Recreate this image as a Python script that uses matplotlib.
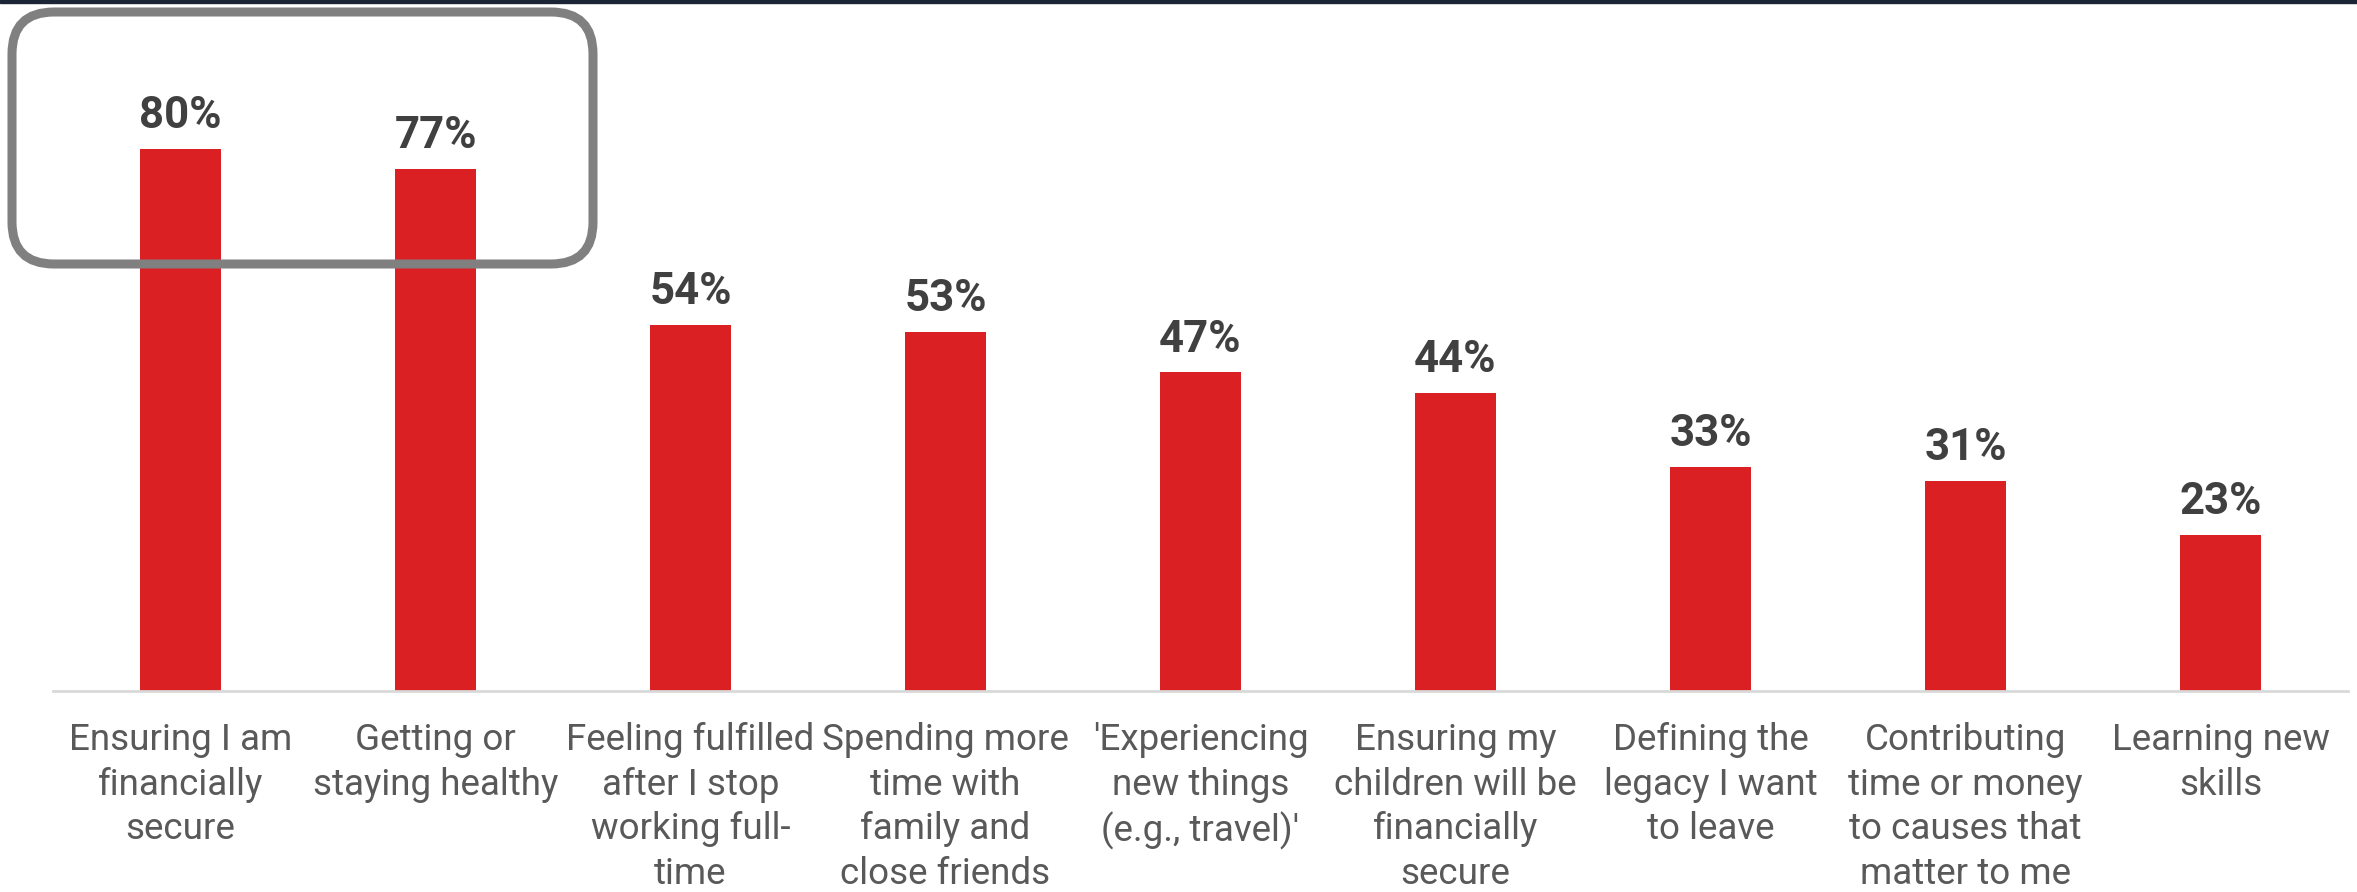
import numpy as np
import matplotlib
matplotlib.use("Agg")
import matplotlib.pyplot as plt
from matplotlib.patches import FancyBboxPatch, Rectangle

# ---------------------------------------------------------------------------
# data
categories = [
    "Ensuring I am\nfinancially\nsecure",
    "Getting or\nstaying healthy",
    "Feeling fulfilled\nafter I stop\nworking full-\ntime",
    "Spending more\ntime with\nfamily and\nclose friends",
    "'Experiencing\nnew things\n(e.g., travel)'",
    "Ensuring my\nchildren will be\nfinancially\nsecure",
    "Defining the\nlegacy I want\nto leave",
    "Contributing\ntime or money\nto causes that\nmatter to me",
    "Learning new\nskills",
]
values = [80, 77, 54, 53, 47, 44, 33, 31, 23]
value_labels = ["80%", "77%", "54%", "53%", "47%", "44%", "33%", "31%", "23%"]

# ---------------------------------------------------------------------------
plt.rcParams['font.family'] = ['Roboto', 'DejaVu Sans']

W, H = 2357, 892
fig = plt.figure(figsize=(W / 100, H / 100), dpi=100)

ax = fig.add_axes([53 / W, 1 - 691 / H, (2348 - 53) / W, 678 / H])

x = np.arange(len(values))
ax.bar(x, values, width=0.32, color="#da2023", zorder=2)

for xi, v, lab in zip(x, values, value_labels):
    ax.annotate(lab, (xi, v), xytext=(0, 15), textcoords="offset points",
                ha="center", va="baseline", fontsize=31.5, fontweight="bold",
                color="#404040")

ax.set_xlim(-0.5, len(values) - 0.5)
ax.set_ylim(0, 100)
ax.set_xticks(x)
ax.set_xticklabels(categories, fontsize=26.5, color="#595959", linespacing=1.32)
ax.tick_params(axis="x", length=0, pad=22)
ax.set_yticks([])

for s in ["top", "right", "left"]:
    ax.spines[s].set_visible(False)
ax.spines["bottom"].set_color("#d9d9d9")
ax.spines["bottom"].set_linewidth(2)

# highlight box around the first two bars (display pixels)
box = FancyBboxPatch((12, H - 264), 581, 252,
                     boxstyle="round,pad=0,rounding_size=42",
                     transform=None, fill=False, edgecolor="#808080",
                     linewidth=6.5, zorder=5)
fig.add_artist(box)

# thin dark strip along the top edge
fig.add_artist(Rectangle((0, 1 - 3 / H), 1, 3 / H, transform=fig.transFigure,
                         color="#1b2535", zorder=6))

plt.savefig("out.png", dpi=100)
